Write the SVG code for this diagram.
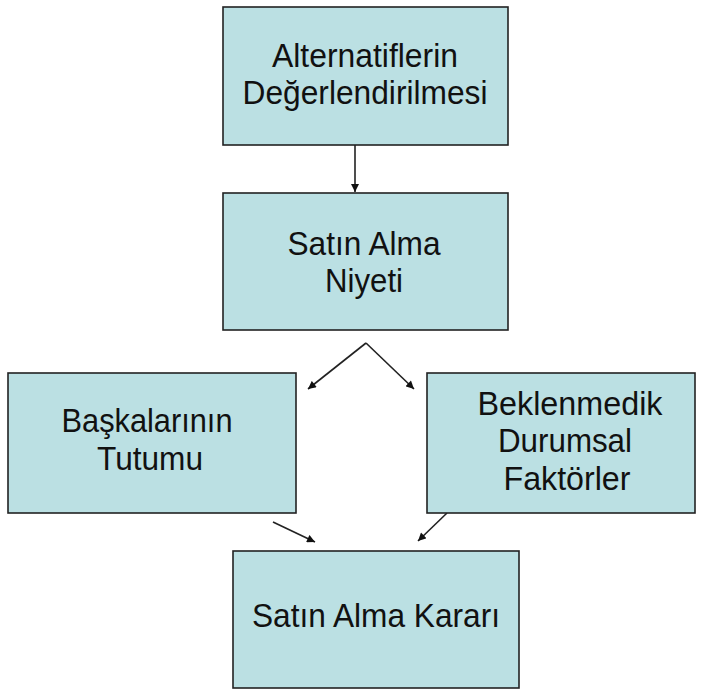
<svg xmlns="http://www.w3.org/2000/svg" width="702" height="690" viewBox="0 0 702 690">
  <style>
    .box { fill: #bbe0e3; stroke: #222; stroke-width: 1.6; }
    .label { font-family: "Liberation Sans", Arial, sans-serif; font-size: 33px; fill: #111; text-anchor: middle; }
    .link { stroke: #222; stroke-width: 1.6; fill: none; marker-end: url(#arrow); }
  </style>
  <defs>
    <marker id="arrow" viewBox="0 0 10 10" refX="10" refY="5" markerWidth="9" markerHeight="8" orient="auto" markerUnits="userSpaceOnUse">
      <path d="M0,0 L10,5 L0,10 z" fill="#111"/>
    </marker>
  </defs>

  <rect width="702" height="690" fill="#ffffff"/>

  <g id="connectors">
    <line class="link" x1="355" y1="145" x2="355" y2="192"/>
    <line class="link" x1="366" y1="343" x2="308" y2="389"/>
    <line class="link" x1="366" y1="343" x2="414" y2="389"/>
    <line class="link" x1="273" y1="522" x2="315" y2="542"/>
    <line class="link" x1="447" y1="513" x2="418" y2="541"/>
  </g>

  <g id="node-alternatifler">
    <rect class="box" x="223" y="7" width="285" height="138"/>
    <text class="label" x="365" y="67" textLength="186" lengthAdjust="spacingAndGlyphs">Alternatiflerin</text>
    <text class="label" x="365" y="104" textLength="245" lengthAdjust="spacingAndGlyphs">Değerlendirilmesi</text>
  </g>

  <g id="node-niyet">
    <rect class="box" x="223" y="193" width="285" height="137"/>
    <text class="label" x="364" y="255" textLength="153" lengthAdjust="spacingAndGlyphs">Satın Alma</text>
    <text class="label" x="364" y="292" textLength="78" lengthAdjust="spacingAndGlyphs">Niyeti</text>
  </g>

  <g id="node-baskalari">
    <rect class="box" x="8" y="373" width="288" height="140"/>
    <text class="label" x="147" y="432" textLength="171" lengthAdjust="spacingAndGlyphs">Başkalarının</text>
    <text class="label" x="150" y="470" textLength="106" lengthAdjust="spacingAndGlyphs">Tutumu</text>
  </g>

  <g id="node-faktorler">
    <rect class="box" x="427" y="373" width="268" height="140"/>
    <text class="label" x="570" y="415" textLength="185" lengthAdjust="spacingAndGlyphs">Beklenmedik</text>
    <text class="label" x="565" y="452" textLength="134" lengthAdjust="spacingAndGlyphs">Durumsal</text>
    <text class="label" x="567" y="490" textLength="127" lengthAdjust="spacingAndGlyphs">Faktörler</text>
  </g>

  <g id="node-karar">
    <rect class="box" x="233" y="551" width="286" height="137"/>
    <text class="label" x="376" y="627" textLength="248" lengthAdjust="spacingAndGlyphs">Satın Alma Kararı</text>
  </g>
</svg>
